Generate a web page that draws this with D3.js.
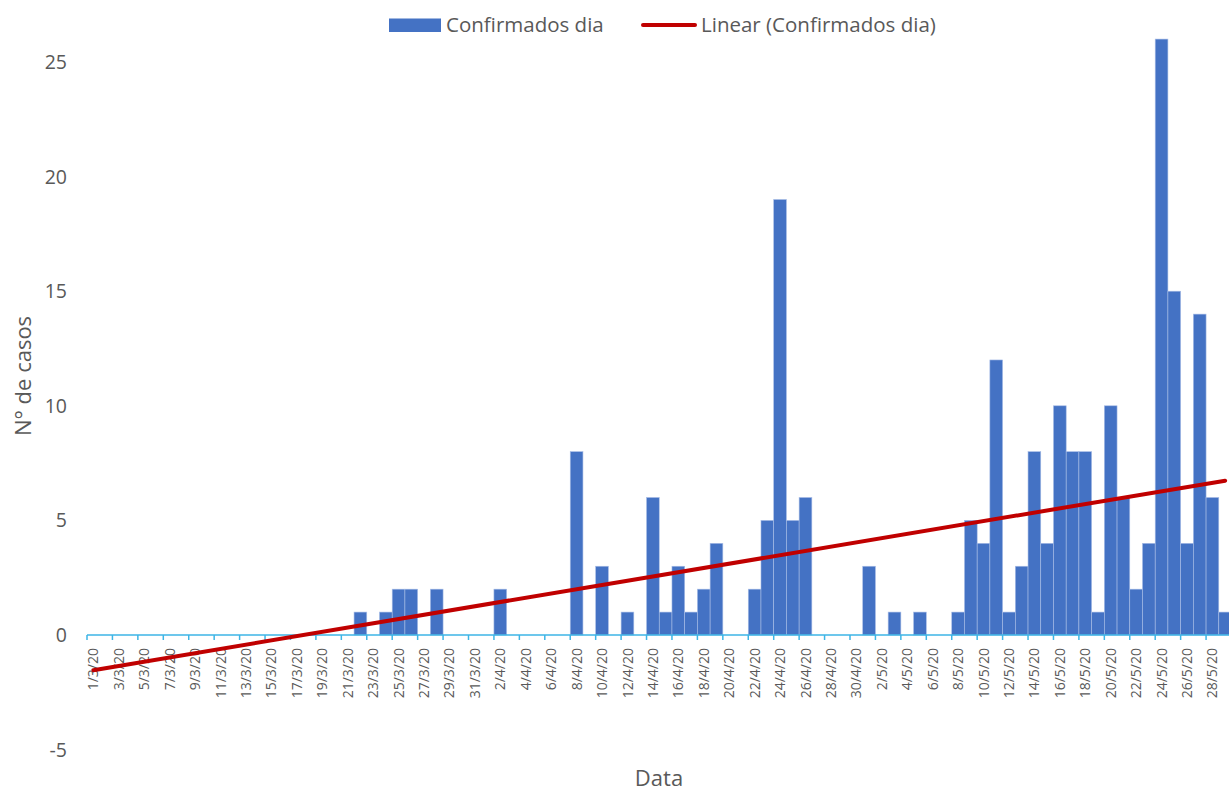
<!doctype html>
<html>
  <head>
    <meta charset="utf-8">
    <script src="https://cdnjs.cloudflare.com/ajax/libs/d3/7.8.5/d3.min.js"></script>
    <style>
      body { margin: 0; background: #fff; }
      text { font-family: "Open Sans", sans-serif; fill: #595959; }
    </style>
  </head>
  <body>
    <svg width="1229" height="792"></svg>
    <script>
      // categories: one per day, 1/3/20 .. 29/5/20
      var days = d3.timeDay.range(new Date(2020, 2, 1), new Date(2020, 4, 30));
      var categories = days.map(d => d.getDate() + "/" + (d.getMonth() + 1) + "/20");

      var confirmados = [
        0, 0, 0, 0, 0, 0, 0, 0, 0, 0,
        0, 0, 0, 0, 0, 0, 0, 0, 0, 0,
        0, 1, 0, 1, 2, 2, 0, 2, 0, 0,
        0, 0, 2, 0, 0, 0, 0, 0, 8, 0,
        3, 0, 1, 0, 6, 1, 3, 1, 2, 4,
        0, 0, 2, 5, 19, 5, 6, 0, 0, 0,
        0, 3, 0, 1, 0, 1, 0, 0, 1, 5,
        4, 12, 1, 3, 8, 4, 10, 8, 8, 1,
        10, 6, 2, 4, 26, 15, 4, 14, 6, 1
      ];

      var yTicks = [-5, 0, 5, 10, 15, 20, 25];

      var svg = d3.select("svg");

      var x = d3.scaleBand()
        .domain(categories)
        .range([87, 1231.5])
        .padding(0);

      var y = d3.scaleLinear()
        .domain([-5, 25])
        .range([749.6, 62]);

      // bars
      svg.append("g")
        .selectAll("rect")
        .data(confirmados.map((v, i) => ({ cat: categories[i], v: v })))
        .enter()
        .filter(d => d.v > 0)
        .append("rect")
          .attr("x", d => x(d.cat))
          .attr("width", x.bandwidth())
          .attr("y", d => y(d.v))
          .attr("height", d => y(0) - y(d.v))
          .attr("fill", "#4472C4")
          .attr("stroke", "#a8bde6")
          .attr("stroke-width", 0.6);

      // x axis line + ticks every 2 categories
      svg.append("line")
        .attr("x1", x.range()[0]).attr("x2", x.range()[1])
        .attr("y1", y(0)).attr("y2", y(0))
        .attr("stroke", "#3DB5E6").attr("stroke-width", 1.5);

      var tickIdx = d3.range(0, categories.length, 2);
      svg.append("g")
        .selectAll("line")
        .data(tickIdx)
        .enter()
        .append("line")
          .attr("x1", i => x(categories[i])).attr("x2", i => x(categories[i]))
          .attr("y1", y(0)).attr("y2", y(0) + 5)
          .attr("stroke", "#3DB5E6").attr("stroke-width", 1.5);

      // x labels, rotated
      svg.append("g")
        .selectAll("text")
        .data(tickIdx)
        .enter()
        .append("text")
          .attr("transform", i => `translate(${x(categories[i]) + x.bandwidth() / 2},648) rotate(-90)`)
          .attr("text-anchor", "end")
          .attr("dy", "0.36em")
          .style("font-size", "14px")
          .text(i => categories[i]);

      // y labels
      svg.append("g")
        .selectAll("text")
        .data(yTicks)
        .enter()
        .append("text")
          .attr("x", 67)
          .attr("y", d => y(d))
          .attr("dy", "0.36em")
          .attr("text-anchor", "end")
          .style("font-size", "19.5px")
          .text(d => d);

      // linear trendline (least squares over the category index)
      var n = confirmados.length;
      var mx = d3.mean(d3.range(n));
      var my = d3.mean(confirmados);
      var sxy = d3.sum(confirmados, (v, i) => (i - mx) * (v - my));
      var sxx = d3.sum(d3.range(n), i => (i - mx) * (i - mx));
      var slope = sxy / sxx;
      var trend = [0, n - 1].map(i => ({ cat: categories[i], v: my + slope * (i - mx) }));

      svg.append("path")
        .datum(trend)
        .attr("fill", "none")
        .attr("stroke", "#C00000")
        .attr("stroke-width", 4)
        .attr("stroke-linecap", "round")
        .attr("d", d3.line()
          .x(d => x(d.cat) + x.bandwidth() / 2)
          .y(d => y(d.v)));

      // axis titles
      svg.append("text")
        .attr("transform", "translate(31,376) rotate(-90)")
        .attr("text-anchor", "middle")
        .style("font-size", "22px")
        .text("N° de casos");

      svg.append("text")
        .attr("x", 659)
        .attr("y", 786)
        .attr("text-anchor", "middle")
        .style("font-size", "22px")
        .text("Data");

      // legend
      var legend = svg.append("g");
      legend.append("rect")
        .attr("x", 389).attr("y", 18.5)
        .attr("width", 52).attr("height", 13.5)
        .attr("fill", "#4472C4");
      legend.append("text")
        .attr("x", 446).attr("y", 32)
        .style("font-size", "20.5px")
        .text("Confirmados dia");
      legend.append("line")
        .attr("x1", 643).attr("x2", 695)
        .attr("y1", 25).attr("y2", 25)
        .attr("stroke", "#C00000").attr("stroke-width", 4)
        .attr("stroke-linecap", "round");
      legend.append("text")
        .attr("x", 701).attr("y", 32)
        .style("font-size", "20.5px")
        .text("Linear (Confirmados dia)");
    </script>
  </body>
</html>
